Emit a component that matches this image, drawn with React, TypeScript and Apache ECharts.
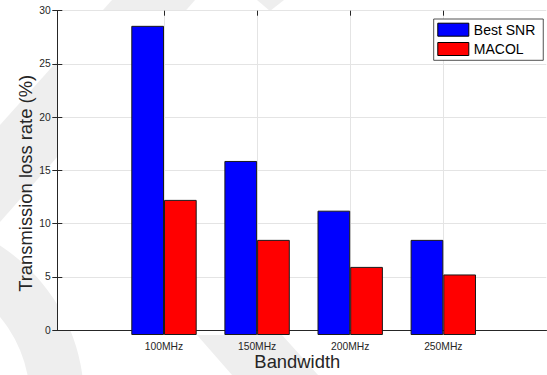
import React, { useEffect, useRef } from "react";
import * as echarts from "echarts";

const categories = ["100MHz", "150MHz", "200MHz", "250MHz"];
const bestSnr = [28.6, 16.1, 11.5, 8.8];
const macol = [12.5, 8.8, 6.3, 5.6];
const seriesNames = ["Best SNR", "MACOL"];
const yMin = 0;
const yMax = 30;
const yStep = 5;

const FONT = "'Liberation Sans', Arial, Helvetica, sans-serif";
const AX = "#262626";
const GRIDC = "#e4e4e4";
const WM = "#eeeeee";

export default function App() {
  const ref = useRef<HTMLDivElement>(null);
  useEffect(() => {
    document.body.style.margin = "0";
    if (!ref.current) return;
    const chart = echarts.init(ref.current, null, { renderer: "svg" });
    const axisCats = ["", ...categories, ""];
    const inner = (i: number) => i >= 1 && i <= categories.length;
    const option: any = {
      animation: false,
      backgroundColor: "#ffffff",
      textStyle: { fontFamily: FONT },
      graphic: [
        { type: "polygon", z: -10, silent: true, shape: { points: [[112, 0], [195, 0], [0, 222], [0, 125]] }, style: { fill: WM } },
        { type: "polygon", z: -10, silent: true, shape: { points: [[197, 335], [282, 335], [318, 375], [232, 375]] }, style: { fill: WM } },
        { type: "polygon", z: -10, silent: true, shape: { points: [[257, 0], [284, 0], [270, 11]] }, style: { fill: WM } },
        { type: "sector", z: -10, silent: true, shape: { cx: -100, cy: 400, r0: 130, r: 184, startAngle: -Math.PI / 2, endAngle: 0, clockwise: true }, style: { fill: WM } },
      ],
      legend: {
        show: true,
        orient: "vertical",
        left: 433.7,
        top: 19,
        padding: [3.7, 8, 4.3, 3.6],
        itemWidth: 31,
        itemHeight: 13,
        itemGap: 5.3,
        icon: "rect",
        backgroundColor: "#ffffff",
        borderColor: AX,
        borderWidth: 0.8,
        borderRadius: 0,
        itemStyle: { borderColor: "#000", borderWidth: 1 },
        textStyle: { fontFamily: FONT, fontSize: 14, color: "#000", lineHeight: 13 },
        data: seriesNames,
      },
      grid: [
        { left: 57.3, right: 0.7, top: 10.7, bottom: 40, show: true, backgroundColor: "#ffffff", borderWidth: 0 },
        { left: 70.9, right: 10.6, top: 10.7, bottom: 40 },
      ],
      xAxis: [
        {
          gridIndex: 0, type: "value", min: 0, max: 1, position: "bottom",
          axisLine: { show: true, lineStyle: { color: AX, width: 1 } },
          axisTick: { show: false }, axisLabel: { show: false }, splitLine: { show: false },
          name: "Bandwidth", nameLocation: "middle", nameGap: 31, nameMoveOverlap: false,
          nameTextStyle: { fontFamily: FONT, fontSize: 18.4, color: AX, align: "center", verticalAlign: "middle", padding: [0, 9, 0, 0] },
        },
        {
          gridIndex: 0, type: "value", min: 0, max: 1, position: "top",
          axisLine: { show: true, lineStyle: { color: AX, width: 1 } },
          axisTick: { show: false }, axisLabel: { show: false }, splitLine: { show: false },
        },
        {
          gridIndex: 1, type: "category", data: axisCats, boundaryGap: false, position: "bottom",
          axisLine: { show: false }, axisTick: { show: false },
          axisLabel: { interval: 0, fontFamily: FONT, fontSize: 10.3, color: AX, margin: 6 },
          splitLine: { show: true, interval: (i: number) => inner(i), lineStyle: { color: GRIDC, width: 1 } },
        },
        {
          gridIndex: 1, type: "category", data: axisCats, boundaryGap: false, position: "top",
          axisLine: { show: false },
          axisTick: { show: true, inside: true, length: 5, interval: (i: number) => inner(i), lineStyle: { color: AX, width: 1 } },
          axisLabel: { show: false }, splitLine: { show: false },
        },
      ],
      yAxis: [
        {
          gridIndex: 0, type: "value", min: yMin, max: yMax, interval: yStep, position: "left",
          axisLine: { show: true, lineStyle: { color: AX, width: 1 } },
          axisTick: { show: true, inside: true, length: 5, lineStyle: { color: AX } },
          axisLabel: { fontFamily: FONT, fontSize: 10.3, color: AX, margin: 6.5 },
          splitLine: { show: true, lineStyle: { color: GRIDC, width: 1 } },
          name: "Transmission loss rate (%)", nameLocation: "middle", nameGap: 32.2, nameMoveOverlap: false,
          nameTextStyle: { fontFamily: FONT, fontSize: 18.4, color: AX, align: "center", verticalAlign: "middle", padding: [0, 26, 0, 0] },
        },
        {
          gridIndex: 0, type: "value", min: yMin, max: yMax, interval: yStep, position: "right",
          axisLine: { show: true, lineStyle: { color: AX, width: 1 } },
          axisTick: { show: true, inside: true, length: 5, lineStyle: { color: AX } },
          axisLabel: { show: false }, splitLine: { show: false },
        },
        { gridIndex: 1, type: "value", min: yMin, max: yMax, show: false },
      ],
      series: [
        {
          name: seriesNames[0], type: "bar", xAxisIndex: 2, yAxisIndex: 2,
          data: [null, ...bestSnr, null], barWidth: 32.7, barGap: "0%",
          itemStyle: { color: "#0000ff", borderColor: "#1a1a1a", borderWidth: 1 },
        },
        {
          name: seriesNames[1], type: "bar", xAxisIndex: 2, yAxisIndex: 2,
          data: [null, ...macol, null], barWidth: 32.7, barGap: "0%",
          itemStyle: { color: "#ff0000", borderColor: "#1a1a1a", borderWidth: 1 },
        },
      ],
    };
    chart.setOption(option);
    return () => chart.dispose();
  }, []);
  return <div ref={ref} style={{ width: 547, height: 375 }} />;
}
